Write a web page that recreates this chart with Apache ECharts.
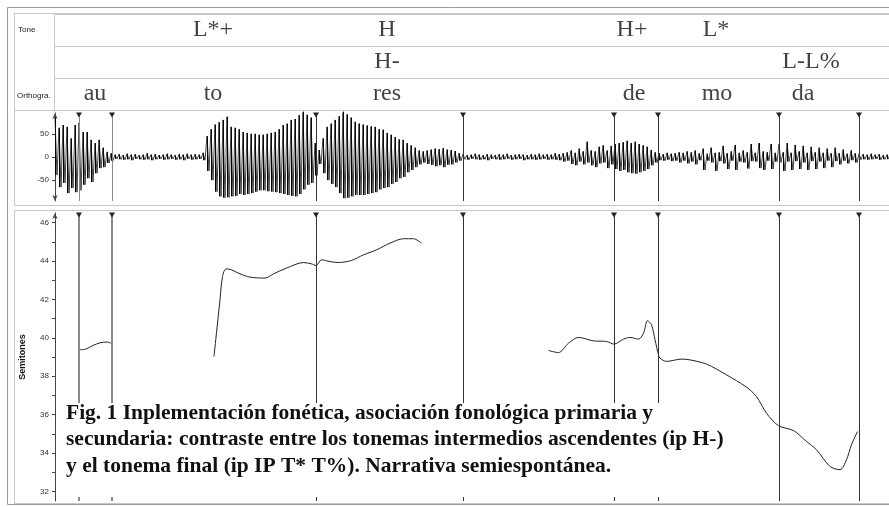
<!DOCTYPE html>
<html>
<head>
<meta charset="utf-8">
<script src="https://cdn.jsdelivr.net/npm/echarts@6/dist/echarts.min.js"></script>
<style>
html, body { margin: 0; padding: 0; background: #fff; }
#chart { width: 889px; height: 507px; }
</style>
</head>
<body>
<div id="chart"></div>
<script>
// tiempo en ms
var boundaries = [48, 114, 522, 816, 1118, 1206, 1448, 1608];

var toneLabels = ['L*+', 'H', 'H+', 'L*'];
var toneTimes = [316, 664, 1154, 1322];
var phraseLabels = ['H-', 'L-L%'];
var phraseTimes = [664, 1512];
var sylLabels = ['au', 'to', 'res', 'de', 'mo', 'da'];
var sylTimes = [80, 316, 664, 1158, 1324, 1496];

// oscilograma: [max, min] por columna de 8 ms
var waveAu = [[85,-39],[63,-65],[69,-56],[65,-78],[40,-67],[69,-76],[74,-72],[54,-60],[54,-46],[37,-54],[30,-35],[37,-24],[20,-22],[11,-13],[8,-8]];
var waveGap1 = [[5,-4],[6,-5],[4,-6],[7,-5],[5,-7],[6,-4],[4,-5],[5,-6],[8,-5],[5,-7],[6,-5],[4,-4],[5,-6],[7,-5],[5,-4],[4,-6],[6,-5],[5,-7],[7,-4],[5,-6],[6,-5],[5,-4],[9,-7]];
var waveTo = [[45,-30],[60,-50],[70,-75],[75,-85],[80,-88],[87,-87],[65,-85],[63,-84],[60,-80],[54,-82],[52,-80],[50,-78],[50,-75],[48,-72],[48,-72],[50,-74],[52,-75],[54,-76],[60,-78],[69,-80],[72,-82],[80,-84],[82,-85],[90,-80],[98,-70],[91,-60],[85,-56]];
var waveJoin = [[30,-40],[15,-15]];
var waveRes = [[40,-35],[65,-50],[72,-58],[80,-65],[88,-78],[98,-89],[92,-88],[85,-85],[76,-82],[72,-82],[70,-82],[68,-80],[66,-78],[65,-76],[60,-70],[59,-67],[52,-65],[48,-58],[43,-54],[38,-46],[37,-43],[30,-33],[25,-28],[20,-22],[14,-16]];
var waveS = [[12,-12],[14,-15],[16,-17],[18,-20],[17,-18],[19,-22],[16,-17],[15,-16],[13,-12],[8,-8]];
var waveGap2 = [[6,-5],[4,-6],[5,-4],[7,-5],[5,-6],[4,-5],[6,-7],[5,-4],[4,-5],[6,-6],[5,-5],[7,-4],[4,-6],[5,-5],[6,-4],[5,-7],[4,-5],[6,-5],[5,-6],[7,-5],[5,-4],[6,-6],[5,-5],[8,-6],[6,-7]];
var waveRamp = [[8,-10],[10,-8],[14,-15],[9,-18],[18,-10],[12,-16],[33,-12],[14,-18],[12,-22],[22,-14],[25,-12],[14,-24],[24,-16]];
var waveDe = [[28,-26],[30,-30],[32,-28],[35,-33],[30,-35],[33,-36],[28,-33],[25,-30],[22,-26],[15,-18],[10,-12]];
var waveGap3 = [[8,-7],[6,-8],[9,-6],[7,-9],[8,-8],[10,-12],[9,-8],[12,-14],[10,-10],[14,-16]];
var waveMo = [[8,-7],[18,-28],[7,-8],[20,-12],[9,-30],[10,-9],[24,-14],[8,-26],[12,-8],[26,-28],[9,-10],[14,-12],[10,-25],[28,-9],[9,-10],[30,-24],[12,-28],[10,-8],[28,-26],[9,-10]];
var waveDa = [[28,-12],[10,-30],[30,-10],[9,-28],[26,-9],[12,-26],[24,-12],[9,-28],[22,-9],[10,-26],[20,-10],[9,-24],[18,-8],[8,-22],[20,-9],[8,-16],[16,-8],[7,-14],[14,-7],[8,-12],[7,-6]];
var waveEnd = [[6,-5],[5,-6],[7,-5],[5,-4],[6,-6],[4,-5],[5,-5]];
var waveStep = 8;

// curva de f0 en semitonos
var pitchAuT = [48, 60, 76, 90, 104, 116];
var pitchAuST = [39.38, 39.40, 39.60, 39.74, 39.78, 39.67];
var pitchResT = [318, 323, 330, 335, 342, 353, 370, 390, 420, 437, 463, 497, 513, 522, 533, 550, 567, 593, 617, 643, 670, 697, 717, 733];
var pitchResST = [39.03, 40.26, 41.98, 43.19, 43.59, 43.54, 43.33, 43.16, 43.11, 43.33, 43.63, 43.92, 43.85, 43.76, 44.06, 43.97, 43.92, 44.03, 44.32, 44.58, 44.93, 45.16, 45.16, 44.93];
var pitchModaT = [987, 1007, 1027, 1047, 1077, 1103, 1118, 1137, 1150, 1167, 1177, 1185, 1193, 1200, 1207, 1210, 1223, 1253, 1270, 1303, 1343, 1383, 1403, 1423, 1447, 1477, 1503, 1523, 1550, 1570, 1583, 1593, 1605];
var pitchModaST = [39.34, 39.23, 39.72, 40.02, 39.84, 39.81, 39.67, 39.93, 40.02, 39.93, 40.24, 40.89, 40.68, 39.90, 39.11, 38.94, 38.77, 38.89, 38.85, 38.63, 38.07, 37.43, 36.94, 36.07, 35.42, 35.17, 34.60, 34.17, 33.30, 33.13, 33.65, 34.43, 35.12];

var caption = 'Fig. 1 Inplementación fonética, asociación fonológica primaria y\n' +
    'secundaria: contraste entre los tonemas intermedios ascendentes (ip H-)\n' +
    'y el tonema final (ip IP T* T%). Narrativa semiespontánea.';

var tMax = 1668;

var waveCols = [].concat(waveAu, waveGap1, waveTo, waveJoin, waveRes, waveS, waveGap2,
    waveRamp, waveDe, waveGap3, waveMo, waveDa, waveEnd);
var waveData = [];
var spikeData = [];
waveCols.forEach(function (c, i) {
    waveData.push([i * waveStep, c[0]]);
    waveData.push([i * waveStep + waveStep / 2, c[1]]);
    spikeData.push([i * waveStep, c[0], c[1]]);
});

function pairs(ts, vs) {
    return ts.map(function (t, i) { return [t, vs[i]]; });
}

function tierData(times, labels, row) {
    return times.map(function (t, i) { return [t, row, labels[i]]; });
}

function boundaryLines(grey) {
    return boundaries.map(function (t, i) {
        var g = i < 2;
        return {
            xAxis: t,
            lineStyle: {
                color: g ? '#8a8a8a' : '#333',
                width: g && grey ? 2 : 1,
                type: 'solid'
            }
        };
    });
}

function boundaryMarks(yTop) {
    return boundaries.map(function (t) {
        return { coord: [t, yTop] };
    });
}

var serif = '"Liberation Serif", "Times New Roman", serif';
var sans = '"Liberation Sans", Arial, sans-serif';

var tierLabel = {
    show: true,
    position: 'inside',
    formatter: function (p) { return p.value[2]; },
    fontFamily: serif,
    fontSize: 24,
    color: '#111'
};

var chart = echarts.init(document.getElementById('chart'));

var option = {
    animation: false,
    backgroundColor: '#fff',
    grid: [
        { left: 55, right: 0, top: 14, height: 96 },
        { left: 55, right: 0, top: 113, height: 88 },
        { left: 55, right: 0, top: 213, height: 288 }
    ],
    xAxis: [0, 1, 2].map(function (g) {
        return { type: 'value', gridIndex: g, min: 0, max: tMax, show: false };
    }),
    yAxis: [
        {
            type: 'value', gridIndex: 0, min: 0, max: 3, interval: 1,
            axisLine: { show: false }, axisTick: { show: false }, axisLabel: { show: false },
            splitLine: { show: true, lineStyle: { color: '#c8c8c8', width: 1 } }
        },
        {
            type: 'value', gridIndex: 1, min: -95, max: 95, offset: 3,
            axisLine: { show: true, symbol: ['arrow', 'arrow'], symbolSize: [4, 6], lineStyle: { color: '#444' } },
            axisTick: { show: true, length: 3, customValues: [-50, 0, 50], lineStyle: { color: '#444' } },
            axisLabel: { customValues: [-50, 0, 50], fontFamily: sans, fontSize: 8, color: '#333', margin: 3 },
            splitLine: { show: false }
        },
        {
            type: 'value', gridIndex: 2, min: 31.5, max: 46.5, offset: 3,
            name: 'Semitones', nameLocation: 'middle', nameGap: 25, nameRotate: 90,
            nameTextStyle: { fontFamily: sans, fontSize: 9, fontWeight: 'bold', color: '#111' },
            axisLine: { show: true, symbol: ['none', 'arrow'], symbolSize: [4, 6], lineStyle: { color: '#444' } },
            axisTick: { show: true, length: 3, customValues: [32, 33, 34, 35, 36, 37, 38, 39, 40, 41, 42, 43, 44, 45, 46], lineStyle: { color: '#444' } },
            axisLabel: { customValues: [32, 34, 36, 38, 40, 42, 44, 46], fontFamily: sans, fontSize: 8, color: '#333', margin: 3 },
            splitLine: { show: false }
        }
    ],
    series: [
        {
            type: 'scatter', xAxisIndex: 0, yAxisIndex: 0, symbolSize: 0, silent: true,
            label: tierLabel, data: tierData(toneTimes, toneLabels, 2.5)
        },
        {
            type: 'scatter', xAxisIndex: 0, yAxisIndex: 0, symbolSize: 0, silent: true,
            label: tierLabel, data: tierData(phraseTimes, phraseLabels, 1.5)
        },
        {
            type: 'scatter', xAxisIndex: 0, yAxisIndex: 0, symbolSize: 0, silent: true,
            label: tierLabel, data: tierData(sylTimes, sylLabels, 0.5)
        },
        {
            type: 'line', xAxisIndex: 1, yAxisIndex: 1, showSymbol: false, silent: true,
            lineStyle: { color: '#111', width: 0.8 },
            data: waveData,
            markLine: { silent: true, symbol: 'none', label: { show: false }, data: boundaryLines(false) },
            markPoint: {
                silent: true, symbol: 'triangle', symbolRotate: 180, symbolSize: [6, 5], symbolOffset: [0, 2],
                itemStyle: { color: '#222' }, label: { show: false }, data: boundaryMarks(95)
            }
        },
        {
            // picos verticales del oscilograma
            type: 'custom', xAxisIndex: 1, yAxisIndex: 1, silent: true,
            data: spikeData,
            renderItem: function (params, api) {
                var top = api.coord([api.value(0), api.value(1)]);
                var bot = api.coord([api.value(0), api.value(2)]);
                var x = Math.round(top[0]) + 0.5;
                return {
                    type: 'line',
                    shape: { x1: x, y1: top[1], x2: x, y2: bot[1] },
                    style: { stroke: '#000', lineWidth: 1 }
                };
            }
        },
        {
            type: 'line', xAxisIndex: 2, yAxisIndex: 2, showSymbol: false, silent: true, smooth: 0.3,
            lineStyle: { color: '#222', width: 1 },
            data: pairs(pitchAuT, pitchAuST),
            markLine: { silent: true, symbol: 'none', label: { show: false }, data: boundaryLines(true) },
            markPoint: {
                silent: true, symbol: 'triangle', symbolRotate: 180, symbolSize: [6, 5], symbolOffset: [0, 2],
                itemStyle: { color: '#222' }, label: { show: false }, data: boundaryMarks(46.5)
            }
        },
        {
            type: 'line', xAxisIndex: 2, yAxisIndex: 2, showSymbol: false, silent: true, smooth: 0.3,
            lineStyle: { color: '#222', width: 1 },
            data: pairs(pitchResT, pitchResST)
        },
        {
            type: 'line', xAxisIndex: 2, yAxisIndex: 2, showSymbol: false, silent: true, smooth: 0.3,
            lineStyle: { color: '#222', width: 1 },
            data: pairs(pitchModaT, pitchModaST)
        }
    ],
    graphic: [
        { type: 'rect', silent: true, z: 1, shape: { x: 7.5, y: 7.5, width: 890, height: 497 }, style: { fill: 'none', stroke: '#9a9a9a', lineWidth: 1 } },
        { type: 'rect', silent: true, z: 1, shape: { x: 14.5, y: 13.5, width: 880, height: 97 }, style: { fill: 'none', stroke: '#c8c8c8', lineWidth: 1 } },
        { type: 'line', silent: true, z: 1, shape: { x1: 54.5, y1: 13.5, x2: 54.5, y2: 110.5 }, style: { stroke: '#c8c8c8', lineWidth: 1 } },
        { type: 'rect', silent: true, z: 1, shape: { x: 14.5, y: 110.5, width: 880, height: 95 }, style: { fill: 'none', stroke: '#c8c8c8', lineWidth: 1 } },
        { type: 'rect', silent: true, z: 1, shape: { x: 14.5, y: 210.5, width: 880, height: 293 }, style: { fill: 'none', stroke: '#c8c8c8', lineWidth: 1 } },
        { type: 'text', silent: true, z: 5, left: 18, top: 26, style: { text: 'Tone', font: '8px ' + sans, fill: '#222' } },
        { type: 'text', silent: true, z: 5, left: 17, top: 92, style: { text: 'Orthogra.', font: '8px ' + sans, fill: '#222' } },
        { type: 'rect', silent: true, z: 100, shape: { x: 57, y: 403, width: 680, height: 94 }, style: { fill: '#fff', stroke: 'none' } },
        {
            type: 'text', silent: true, z: 101, left: 66, top: 400,
            style: { text: caption, font: 'bold 21.5px ' + serif, fill: '#111', lineHeight: 26.5 }
        }
    ]
};

chart.setOption(option);
</script>
</body>
</html>
